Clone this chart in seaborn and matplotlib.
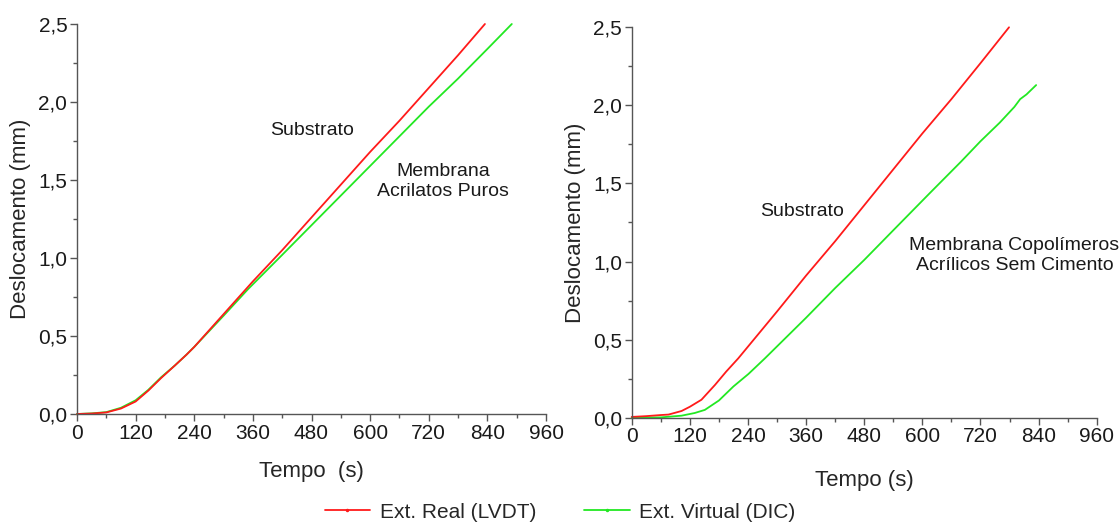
import numpy as np
import pandas as pd
import matplotlib
matplotlib.use("Agg")
import matplotlib.pyplot as plt
from matplotlib.ticker import MultipleLocator, FuncFormatter
from matplotlib.lines import Line2D
import seaborn as sns

# ---------------- data ----------------
series_names = ["Ext. Real (LVDT)", "Ext. Virtual (DIC)"]

# Left panel: Membrana Acrilatos Puros
left_real_t = [0, 30, 60, 90, 120, 146, 172, 200, 224, 240, 300, 360, 420, 480, 540, 600, 660, 720, 780, 835]
left_real_v = [0, 0.003, 0.01, 0.035, 0.08, 0.15, 0.23, 0.31, 0.38, 0.43, 0.64, 0.85, 1.05, 1.26, 1.47, 1.68, 1.88, 2.09, 2.30, 2.50]
left_dic_t = [0, 30, 60, 90, 120, 146, 172, 200, 224, 240, 300, 350, 420, 480, 540, 600, 660, 720, 780, 840, 890]
left_dic_v = [0, 0.004, 0.012, 0.04, 0.088, 0.155, 0.235, 0.31, 0.38, 0.43, 0.63, 0.80, 1.02, 1.21, 1.40, 1.59, 1.78, 1.97, 2.15, 2.34, 2.50]

# Right panel: Membrana Copolímeros Acrílicos Sem Cimento
right_real_t = [0, 30, 60, 76, 103, 120, 144, 172, 195, 220, 300, 360, 420, 480, 540, 600, 660, 720, 779]
right_real_v = [0.005, 0.01, 0.017, 0.02, 0.043, 0.07, 0.115, 0.21, 0.295, 0.38, 0.68, 0.91, 1.13, 1.36, 1.59, 1.82, 2.04, 2.27, 2.50]
right_dic_t = [0, 30, 60, 103, 130, 151, 180, 210, 241, 275, 360, 420, 480, 540, 616, 680, 720, 760, 790, 802, 815, 835]
right_dic_v = [0, 0.001, 0.002, 0.013, 0.03, 0.05, 0.11, 0.20, 0.28, 0.38, 0.64, 0.83, 1.01, 1.20, 1.44, 1.64, 1.77, 1.89, 1.99, 2.04, 2.07, 2.13]

panel_labels = [
    [("Substrato", 481, 1.82), ("Membrana\nAcrilatos Puros", 749, 1.49)],
    [("Substrato", 352, 1.32), ("Membrana Copolímeros\nAcrílicos Sem Cimento", 790, 1.04)],
]
x_labels = ["Tempo  (s)", "Tempo (s)"]
y_label = "Deslocamento (mm)"
x_ticks = [0, 120, 240, 360, 480, 600, 720, 840, 960]
y_ticks = [0.0, 0.5, 1.0, 1.5, 2.0, 2.5]

colors = {series_names[0]: "#ff1a1a", series_names[1]: "#22e822"}

# ---------------- style ----------------
sns.set_style("ticks")
plt.rcParams["font.family"] = ["Liberation Sans", "DejaVu Sans"]
plt.rcParams["axes.edgecolor"] = "#555555"
plt.rcParams["xtick.color"] = "#555555"
plt.rcParams["ytick.color"] = "#555555"
plt.rcParams["xtick.labelcolor"] = "#1a1a1a"
plt.rcParams["ytick.labelcolor"] = "#1a1a1a"

fig = plt.figure(figsize=(11.2, 5.25), dpi=100)
ax_l = fig.add_axes([77 / 1120, 1 - 414 / 525, 469 / 1120, 390 / 525])
ax_r = fig.add_axes([631.7 / 1120, 1 - 417.7 / 525, 465 / 1120, 390.4 / 525])


def make_df(t1, v1, t2, v2):
    return pd.concat([
        pd.DataFrame({"tempo": t1, "desloc": v1, "serie": series_names[0]}),
        pd.DataFrame({"tempo": t2, "desloc": v2, "serie": series_names[1]}),
    ], ignore_index=True)


dfs = [make_df(left_real_t, left_real_v, left_dic_t, left_dic_v),
       make_df(right_real_t, right_real_v, right_dic_t, right_dic_v)]

fmt = FuncFormatter(lambda v, p: f"{v:.1f}".replace(".", ","))
xpads = [13, 17]

for i, (ax, df) in enumerate(zip([ax_l, ax_r], dfs)):
    sns.lineplot(data=df, x="tempo", y="desloc", hue="serie", palette=colors,
                 hue_order=series_names[::-1], estimator=None, sort=False,
                 legend=False, lw=1.3, ax=ax, clip_on=False)
    ax.set_xlim(0, 960)
    ax.set_ylim(0, 2.5)
    ax.set_xticks(x_ticks)
    ax.set_yticks(y_ticks)
    ax.xaxis.set_minor_locator(MultipleLocator(60))
    ax.yaxis.set_minor_locator(MultipleLocator(0.25))
    ax.yaxis.set_major_formatter(fmt)
    ax.tick_params(axis="both", which="major", direction="out", length=5, width=1, labelsize=15, pad=2)
    ax.tick_params(axis="both", which="minor", direction="out", length=3, width=1)
    for s in ["top", "right"]:
        ax.spines[s].set_visible(False)
    for s in ["left", "bottom"]:
        ax.spines[s].set_linewidth(1.0)
    ax.set_xlabel(x_labels[i], fontsize=16, labelpad=xpads[i])
    ax.set_ylabel(y_label, fontsize=16, labelpad=5)
    for txt, tx, ty in panel_labels[i]:
        ax.text(tx, ty, txt, ha="center", va="center", fontsize=14,
                color="#1a1a1a", clip_on=False, linespacing=1.2)

handles = [Line2D([], [], color=colors[n], lw=1.3, marker=".", markersize=3) for n in series_names]
fig.legend(handles, series_names, loc="center", bbox_to_anchor=(0.5, 1 - 512 / 525),
           ncol=2, frameon=False, fontsize=15, handlelength=2.2, handletextpad=0.45,
           columnspacing=2.3, borderaxespad=0)

fig.savefig("out.png", dpi=100)
